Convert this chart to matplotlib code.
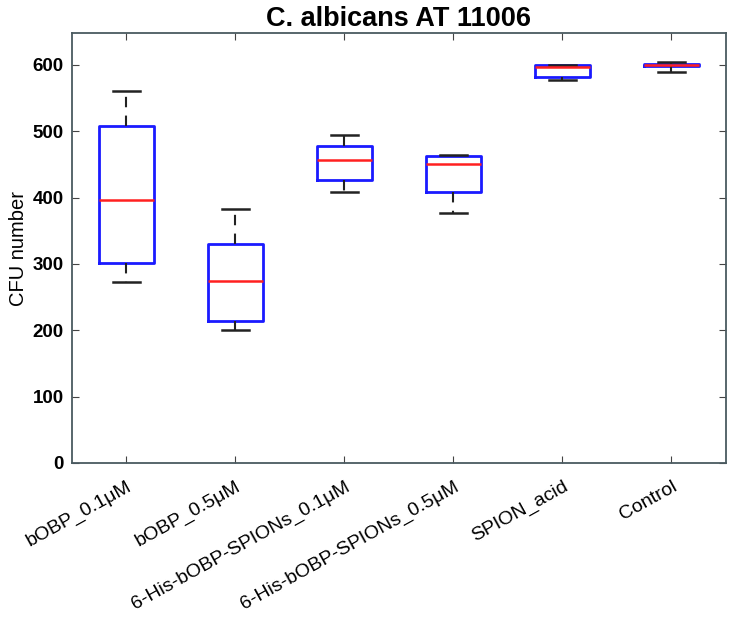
import matplotlib
matplotlib.use("Agg")
import matplotlib.pyplot as plt

plt.rcParams['font.family'] = ['Liberation Sans', 'DejaVu Sans']

# datos
grupos = ["bOBP_0.1μM", "bOBP_0.5μM", "6-His-bOBP-SPIONs_0.1μM",
          "6-His-bOBP-SPIONs_0.5μM", "SPION_acid", "Control"]
bigote_sup = [560, 383, 494, 464, 600, 604]
q3 = [508, 330, 477, 462, 600, 602]
mediana = [397, 274, 457, 451, 597, 600]
q1 = [302, 214, 427, 409, 582, 598]
bigote_inf = [273, 200, 409, 376, 577, 589]

stats = []
for i in range(len(grupos)):
    stats.append({"label": grupos[i], "whishi": bigote_sup[i], "q3": q3[i],
                  "med": mediana[i], "q1": q1[i], "whislo": bigote_inf[i],
                  "fliers": []})

fig = plt.figure(figsize=(7.34, 6.17), dpi=100)
ax = fig.add_axes([0.098, 0.2496, 0.891, 0.6969])

ax.bxp(stats, widths=0.5, showfliers=False,
       boxprops=dict(color="#1a1aff", linewidth=2.0),
       medianprops=dict(color="#ff2020", linewidth=1.8),
       whiskerprops=dict(color="#222222", linewidth=1.5, linestyle=(0, (5, 4))),
       capprops=dict(color="#222222", linewidth=1.8))

ax.set_ylim(0, 648)
ax.set_xlim(0.5, 6.5)
ax.set_yticks([0, 100, 200, 300, 400, 500, 600])
ax.tick_params(direction="in", top=True, right=True, length=5, color="#444444")
ax.tick_params(axis="y", pad=6)
ax.tick_params(axis="x", pad=11)
for s in ax.spines.values():
    s.set_color("#4a5a60")
    s.set_linewidth(1.3)
for t in ax.get_yticklabels():
    t.set_fontsize(13.5)
    t.set_fontweight("bold")
ax.set_xticklabels(grupos, rotation=29, ha="right", va="top",
                   rotation_mode="anchor", fontsize=14)
ax.set_ylabel("CFU number", fontsize=14.5, labelpad=3)
ax.set_title("C. albicans AT 11006", fontsize=19.5, fontweight="bold", pad=5)

plt.savefig("out.png", dpi=100)
